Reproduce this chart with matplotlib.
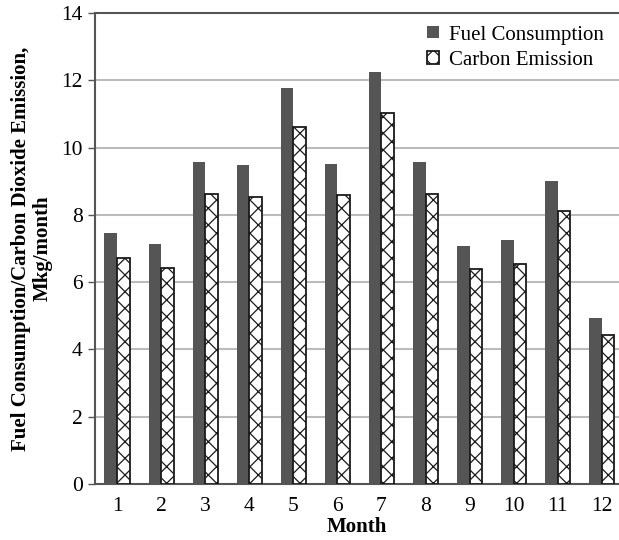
import matplotlib
matplotlib.use("Agg")
import matplotlib.pyplot as plt
import numpy as np

# monthly values (Mkg/month)
months = [1, 2, 3, 4, 5, 6, 7, 8, 9, 10, 11, 12]
fuel = [7.47, 7.13, 9.57, 9.47, 11.78, 9.52, 12.24, 9.58, 7.06, 7.26, 9.02, 4.94]
carbon = [6.73, 6.43, 8.62, 8.52, 10.62, 8.58, 11.03, 8.63, 6.38, 6.55, 8.12, 4.43]

plt.rcParams['font.family'] = ['Liberation Serif', 'DejaVu Serif']
plt.rcParams['hatch.linewidth'] = 0.9
plt.rcParams['hatch.color'] = '#8a8a8a'

fig = plt.figure(figsize=(6.19, 5.40), dpi=100)
ax = fig.add_axes([0.1535, 0.1037, 0.8465, 0.8722])

x = np.array(months)
w = 0.285
ax.bar(x - w / 2, fuel, width=w, color='#555555', label='Fuel Consumption', zorder=3)
ax.bar(x + w / 2, carbon, width=w, facecolor='white', edgecolor='#1a1a1a',
       linewidth=1.3, hatch='xx', label='Carbon Emission', zorder=3)

# plot area runs past the right edge of the picture
ax.set_xlim(0.5, 12.39)
ax.set_ylim(0, 14)
ax.set_yticks(range(0, 15, 2))
ax.set_xticks(months)
ax.tick_params(axis='x', length=0, pad=9, labelsize=15.5)
ax.tick_params(axis='y', length=5, width=1, color='#555555', labelsize=15.5, pad=4)

for y in range(2, 14, 2):
    ax.axhline(y, color='#bbbbbb', linewidth=1.5, zorder=1)

for s in ['left', 'bottom', 'top']:
    ax.spines[s].set_color('#555555')
    ax.spines[s].set_linewidth(1.5)
ax.spines['right'].set_visible(False)

ax.set_xlabel('Month', fontsize=15, fontweight='bold', labelpad=1)
ax.set_ylabel('Fuel Consumption/Carbon Dioxide Emission,\nMkg/month',
              fontsize=15, fontweight='bold', labelpad=6, linespacing=1.1)

ax.legend(loc='upper right', bbox_to_anchor=(0.995, 1.0), frameon=False, fontsize=15,
          handlelength=0.55, handleheight=0.55, handletextpad=0.5, labelspacing=0.3,
          borderaxespad=0.2)

fig.savefig('out.png', dpi=100)
